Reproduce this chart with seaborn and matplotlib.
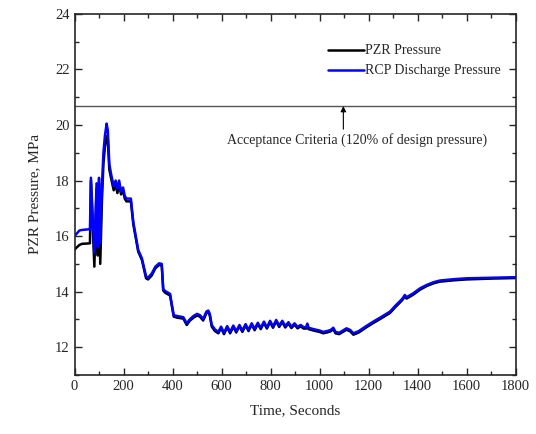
import numpy as np
import pandas as pd
import matplotlib
matplotlib.use("Agg")
import matplotlib.pyplot as plt
import seaborn as sns
from matplotlib.ticker import MultipleLocator

# time (s) and pressures (MPa)
time_s = [
    0, 5, 20, 30, 63, 67, 81, 90, 95, 100, 105, 112, 118, 124, 131, 136, 142,
    150, 160, 168, 175, 182, 190, 198, 205, 212, 230, 240,
    260, 275, 292, 300, 315, 330, 345, 356, 362, 370, 390, 398, 405, 420,
    444, 458, 470, 485, 500, 512, 525, 538, 546, 552, 560, 573, 587,
    598, 610, 623, 635, 648, 660, 673, 685, 698, 710, 723, 735, 748, 760,
    773, 785, 798, 810, 823, 835, 848, 860, 873, 885, 898, 910, 923, 935,
    945, 950, 955, 980, 1000, 1015, 1030, 1045, 1056, 1065, 1080, 1095,
    1110, 1125, 1138, 1160, 1190, 1219, 1250, 1287, 1310, 1335, 1342, 1348,
    1355, 1382, 1410, 1437, 1465, 1491, 1550, 1600, 1700, 1800,
]
rcp_pressure = [
    16.00, 16.05, 16.20, 16.22, 16.25, 18.10, 15.40, 17.90, 15.60, 18.10,
    15.75, 17.80, 19.00, 19.60, 20.05, 19.80, 18.60,
    18.20, 17.80, 18.00, 17.70, 18.00, 17.60, 17.75, 17.45, 17.35, 17.35, 16.50,
    15.50, 15.20, 14.55, 14.50, 14.65, 14.90, 15.02, 15.00, 14.10, 14.02,
    13.92, 13.50, 13.15, 13.12,
    13.08, 12.86, 13.00, 13.12, 13.20, 13.15, 13.02, 13.28, 13.32, 13.20,
    12.80, 12.64, 12.55,
    12.74, 12.52, 12.76, 12.55, 12.78, 12.58, 12.80, 12.60, 12.83, 12.63,
    12.86, 12.66, 12.88, 12.70, 12.92, 12.72, 12.95, 12.75, 12.98, 12.78,
    12.95, 12.76, 12.90, 12.74, 12.86, 12.73, 12.80, 12.72,
    12.72, 12.85, 12.70, 12.64, 12.60, 12.55, 12.58, 12.62, 12.70, 12.55,
    12.52, 12.60, 12.68, 12.62, 12.50, 12.58, 12.76, 12.92, 13.08, 13.28,
    13.50, 13.72, 13.80, 13.88, 13.80, 13.94, 14.12, 14.24, 14.34, 14.40,
    14.45, 14.48, 14.50, 14.52,
]
pzr_pressure = [
    15.50, 15.56, 15.68, 15.72, 15.74, 18.00, 14.90, 17.70, 15.30, 17.90,
    15.00, 17.30, 18.60, 19.20, 19.60, 19.45, 18.40,
    18.05, 17.65, 17.85, 17.55, 17.85, 17.50, 17.65, 17.35, 17.25, 17.25, 16.42,
    15.44, 15.14, 14.48, 14.44, 14.58, 14.84, 14.96, 14.94, 14.04, 13.96,
    13.86, 13.44, 13.10, 13.06,
    13.03, 12.80, 12.95, 13.06, 13.14, 13.10, 12.96, 13.22, 13.26, 13.14,
    12.74, 12.58, 12.50,
    12.69, 12.47, 12.71, 12.50, 12.73, 12.53, 12.75, 12.55, 12.78, 12.58,
    12.81, 12.61, 12.83, 12.65, 12.87, 12.67, 12.90, 12.70, 12.93, 12.73,
    12.90, 12.71, 12.85, 12.69, 12.81, 12.68, 12.75, 12.67,
    12.67, 12.79, 12.65, 12.59, 12.55, 12.50, 12.53, 12.57, 12.65, 12.50,
    12.47, 12.55, 12.63, 12.57, 12.45, 12.53, 12.71, 12.87, 13.03, 13.23,
    13.45, 13.67, 13.75, 13.83, 13.75, 13.89, 14.07, 14.20, 14.30, 14.36,
    14.41, 14.44, 14.47, 14.49,
]
acceptance_limit = 20.68
note_text = "Acceptance Criteria (120% of design pressure)"

df = pd.DataFrame({"time": time_s, "pzr": pzr_pressure, "rcp": rcp_pressure})

sns.set_style("ticks")
plt.rcParams["font.family"] = ["Liberation Serif", "DejaVu Serif"]
plt.rcParams["font.size"] = 10

fig = plt.figure(figsize=(5.36, 4.34), dpi=100)
ax = fig.add_axes([0.139, 0.136, 0.823, 0.832])

sns.lineplot(data=df, x="time", y="pzr", ax=ax, color="black", lw=1.8,
             label="PZR Pressure")
sns.lineplot(data=df, x="time", y="rcp", ax=ax, color="#0000ff", lw=1.8,
             label="RCP Discharge Pressure")

# acceptance line with arrow and note
ax.axhline(acceptance_limit, color="#555555", lw=1.0, zorder=1)
ax.annotate("", xy=(1097, acceptance_limit), xytext=(1097, 19.85),
            arrowprops=dict(arrowstyle="-|>", color="black", lw=0.8,
                            mutation_scale=8, shrinkA=0, shrinkB=0))
ax.text(1153, 19.45, note_text, ha="center", va="center", fontsize=10)

ax.set_xlim(0, 1800)
ax.set_ylim(11, 24)
ax.xaxis.set_major_locator(MultipleLocator(200))
ax.xaxis.set_minor_locator(MultipleLocator(100))
ax.yaxis.set_major_locator(MultipleLocator(2))
ax.yaxis.set_minor_locator(MultipleLocator(1))
ax.tick_params(which="both", direction="in", top=True, right=True,
               width=1.0, labelsize=10.5)
ax.tick_params(which="major", length=5)
ax.tick_params(which="minor", length=3)
for sp in ax.spines.values():
    sp.set_linewidth(1.2)

ax.set_xlabel("Time, Seconds", fontsize=11, labelpad=8)
ax.set_ylabel("PZR Pressure, MPa", fontsize=11, labelpad=10)

ax.legend(loc="upper right", bbox_to_anchor=(0.995, 0.95), frameon=False,
          fontsize=10, handlelength=2.6, handletextpad=0.1, labelspacing=0.5)

fig.savefig("out.png", dpi=100)
